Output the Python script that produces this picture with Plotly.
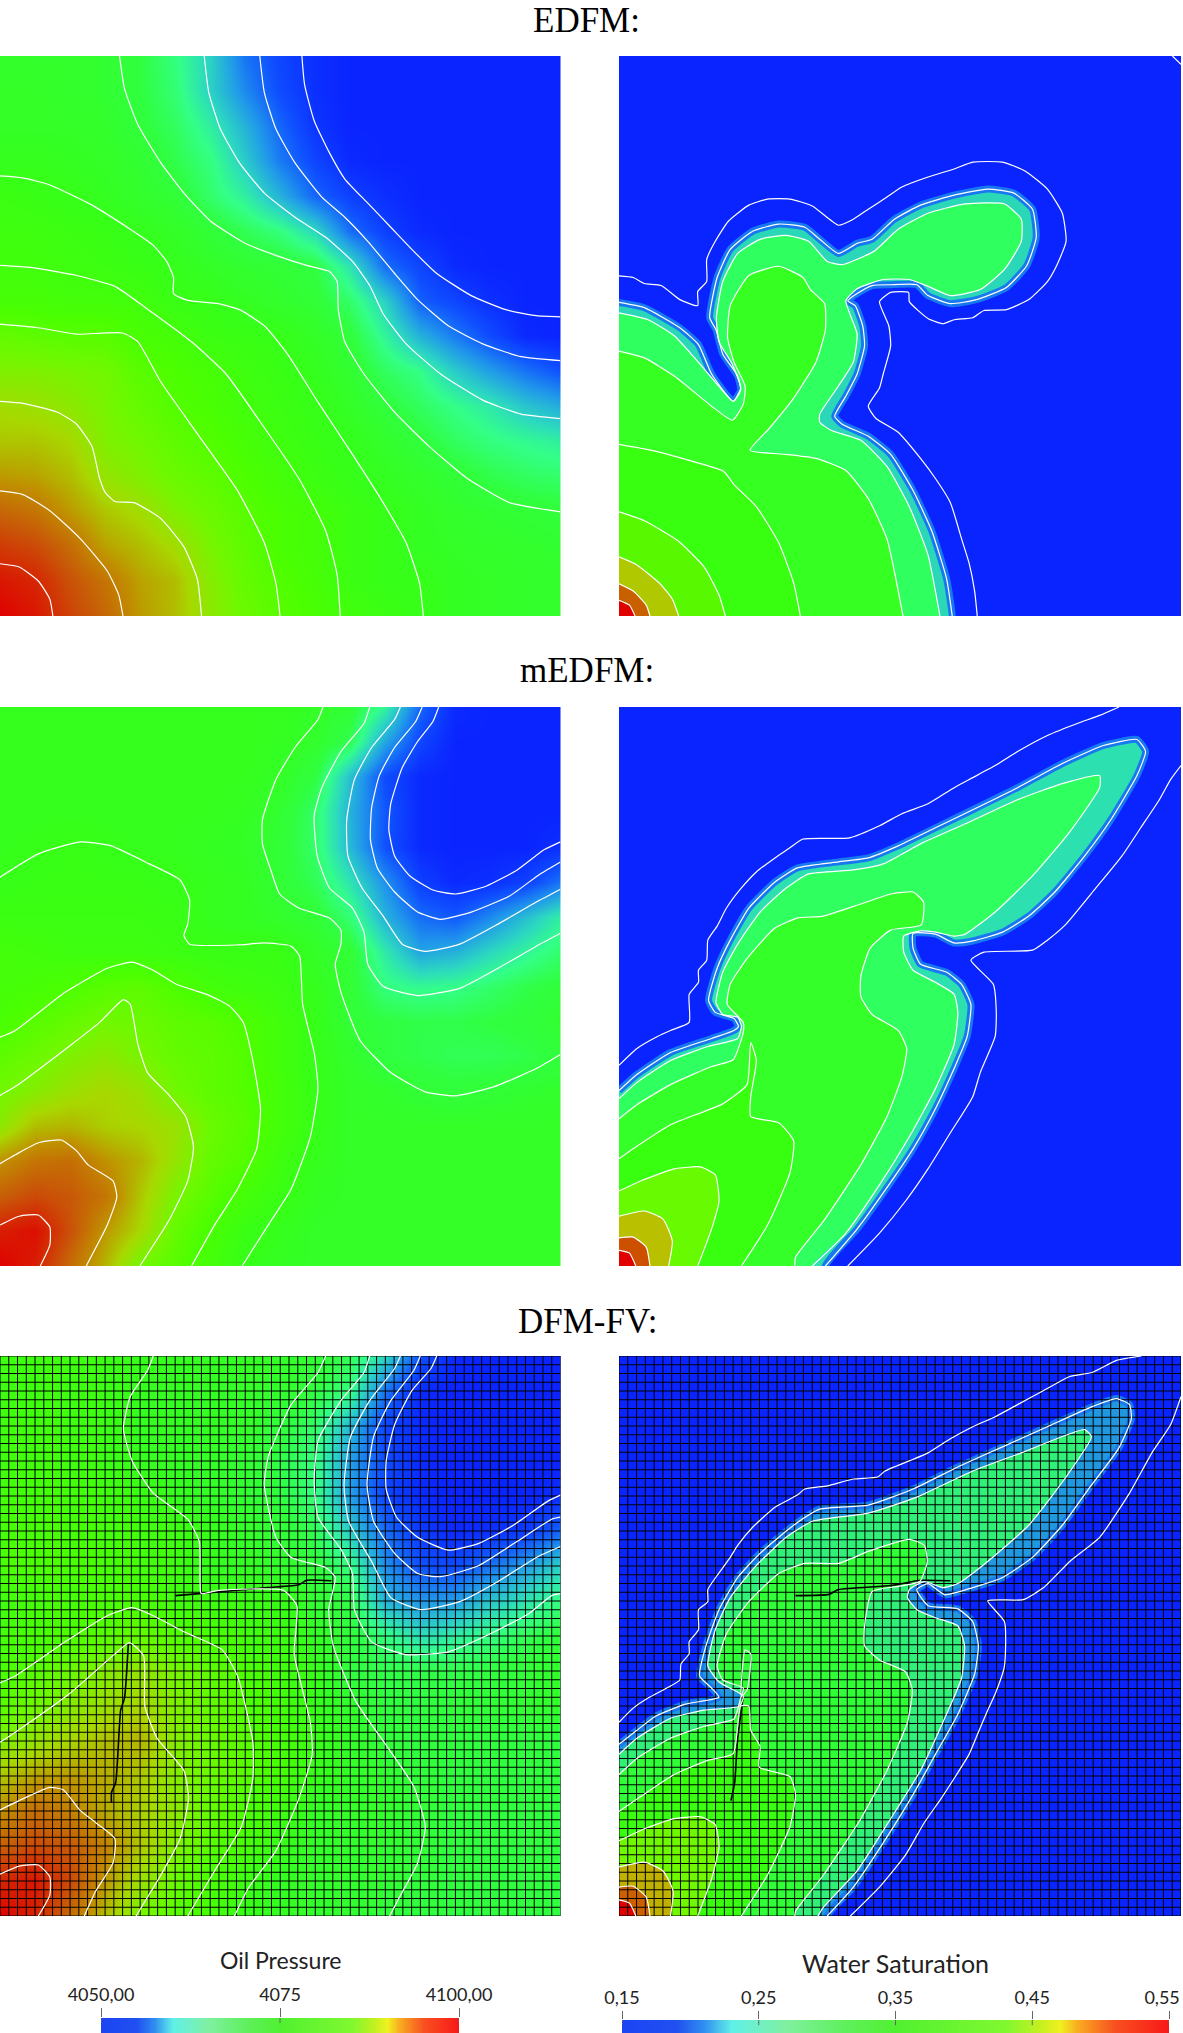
import numpy as np
import plotly.graph_objects as go

W, H = 1183, 2033

# panel colour table (level 0-100)
LEVELS = [0, 8, 18, 28, 35, 42, 50, 58, 64, 72, 80, 88, 100]
LEVEL_COLORS = ['#0a24ff', '#0f50ff', '#2098ea', '#2cd8c0', '#33ff88', '#30ff40', '#36ff18',
                '#4cff00', '#70f800', '#a8d800', '#c09000', '#c85808', '#e00000']

# colour bars at the bottom
BAR_POS = [0, 0.1, 0.15, 0.2, 0.3, 0.4, 0.5, 0.7, 0.76, 0.8, 0.83, 0.9, 1]
BAR_COLORS = ['#1c44f4', '#2050f0', '#3090f0', '#60f0e8', '#80f0a0', '#60f060', '#50f030',
              '#80f830', '#c0f020', '#f0f020', '#f8b020', '#f85020', '#f81818']
PRESSURE_TICKS = [4050, 4075, 4100]
PRESSURE_LABELS = ['4050,00', '4075', '4100,00']
SAT_TICKS = [0.15, 0.25, 0.35, 0.45, 0.55]
# trailing spaces pull the last label back inside the page, as in the original
SAT_LABELS = ['0,15', '0,25', '0,35', '0,45', '0,55\u00a0\u00a0\u00a0']

# oil pressure level on a 17x17 lattice, rows top to bottom
EDFM_P = [
    [46, 46, 46, 45, 42, 36, 27, 13, 6, 2, 0, 0, 0, 0, 0, 0, 0],
    [47, 47, 46, 45, 42, 37, 27, 16, 7, 2, 0, 0, 0, 0, 0, 0, 0],
    [47, 47, 47, 46, 43, 39, 32, 22, 11, 3, 0, 0, 0, 0, 0, 0, 0],
    [49, 49, 48, 47, 45, 41, 36, 26, 14, 6, 1, 0, 0, 0, 0, 0, 0],
    [52, 51, 50, 48, 46, 44, 38, 32, 22, 11, 5, 2, 0, 0, 0, 0, 0],
    [53, 53, 52, 51, 49, 47, 44, 40, 36, 28, 12, 5, 1, 0, 0, 0, 0],
    [54, 54, 53, 52, 51, 49, 47, 45, 44, 42, 30, 12, 6, 1, 0, 0, 0],
    [56, 56, 55, 55, 54, 51, 50, 48, 46, 44, 38, 27, 10, 6, 2, 0, 0],
    [62, 61, 60, 60, 57, 55, 52, 51, 50, 47, 43, 33, 22, 14, 7, 1, 0],
    [66, 66, 65, 64, 60, 58, 56, 53, 51, 49, 45, 39, 35, 26, 19, 13, 8],
    [71, 70, 68, 65, 62, 59, 57, 54, 52, 50, 47, 43, 39, 35, 31, 25, 21],
    [74, 74, 72, 66, 64, 61, 59, 56, 53, 51, 49, 46, 43, 39, 36, 34, 32],
    [79, 78, 75, 69, 66, 63, 61, 58, 55, 52, 50, 48, 46, 44, 41, 39, 38],
    [86, 84, 79, 74, 71, 66, 63, 60, 57, 55, 52, 50, 48, 46, 45, 44, 43],
    [92, 90, 85, 78, 75, 71, 65, 61, 57, 55, 52, 50, 48, 47, 46, 46, 45],
    [97, 95, 89, 84, 78, 75, 67, 62, 59, 56, 52, 50, 50, 48, 47, 46, 46],
    [100, 97, 91, 86, 79, 75, 68, 63, 60, 57, 54, 52, 50, 48, 47, 46, 46],
]
MEDFM_P = [
    [49, 49, 49, 49, 49, 49, 49, 49, 49, 47, 44, 33, 11, 1, 0, 0, 0],
    [49, 49, 49, 49, 49, 49, 49, 49, 48, 46, 40, 20, 6, 0, 0, 0, 0],
    [49, 49, 49, 49, 49, 49, 49, 49, 47, 42, 24, 7, 1, 0, 0, 0, 0],
    [49, 49, 49, 49, 49, 49, 49, 48, 45, 38, 22, 9, 1, 0, 0, 0, 0],
    [49, 50, 51, 50, 49, 49, 48, 47, 44, 38, 23, 8, 1, 0, 0, 0, 2],
    [50, 51, 51, 51, 51, 50, 49, 48, 44, 40, 30, 17, 5, 1, 2, 5, 13],
    [52, 52, 52, 52, 52, 51, 49, 48, 46, 44, 37, 22, 12, 9, 16, 24, 32],
    [55, 54, 53, 53, 53, 52, 51, 51, 51, 47, 44, 31, 20, 22, 28, 33, 38],
    [55, 56, 58, 60, 61, 58, 55, 53, 52, 49, 44, 36, 34, 35, 38, 41, 43],
    [57, 60, 62, 64, 63, 61, 60, 58, 54, 50, 44, 42, 41, 41, 42, 43, 45],
    [61, 63, 66, 68, 65, 62, 61, 59, 54, 50, 46, 42, 41, 40, 40, 41, 43],
    [64, 67, 70, 72, 70, 64, 61, 59, 55, 50, 47, 46, 44, 43, 44, 45, 46],
    [68, 75, 76, 73, 72, 70, 63, 60, 55, 50, 47, 47, 47, 47, 47, 47, 47],
    [80, 84, 85, 80, 76, 69, 62, 59, 53, 49, 47, 47, 47, 47, 47, 47, 47],
    [87, 90, 88, 84, 74, 65, 60, 55, 51, 48, 47, 47, 47, 47, 47, 47, 47],
    [96, 98, 89, 79, 72, 62, 57, 51, 49, 47, 47, 47, 47, 47, 47, 47, 47],
    [100, 96, 85, 76, 64, 60, 55, 50, 48, 47, 47, 47, 47, 47, 47, 47, 47],
]
DFM_P = [
    [53, 53, 53, 52, 50, 49, 48, 48, 47, 45, 40, 28, 8, 1, 0, 0, 0],
    [53, 53, 53, 52, 49, 48, 48, 47, 46, 42, 36, 13, 1, 0, 0, 0, 0],
    [54, 54, 53, 52, 49, 48, 48, 47, 43, 38, 23, 6, 1, 0, 0, 0, 0],
    [54, 54, 54, 52, 49, 48, 47, 45, 41, 36, 19, 7, 1, 0, 0, 0, 0],
    [55, 55, 55, 54, 52, 49, 47, 45, 42, 36, 19, 6, 1, 0, 0, 0, 2],
    [56, 56, 56, 55, 54, 53, 50, 47, 44, 40, 26, 12, 4, 1, 2, 4, 11],
    [57, 57, 57, 56, 55, 53, 49, 48, 46, 43, 36, 17, 8, 7, 13, 19, 27],
    [54, 55, 56, 57, 57, 54, 53, 52, 51, 45, 41, 22, 18, 19, 25, 30, 36],
    [55, 56, 58, 60, 62, 59, 57, 54, 52, 48, 43, 36, 29, 32, 36, 40, 43],
    [57, 60, 63, 67, 69, 65, 61, 58, 54, 50, 42, 41, 41, 41, 42, 44, 46],
    [60, 64, 67, 70, 72, 66, 62, 59, 55, 50, 46, 42, 42, 43, 44, 45, 46],
    [66, 69, 72, 75, 76, 67, 63, 60, 56, 51, 47, 43, 42, 42, 42, 42, 42],
    [74, 78, 79, 77, 74, 67, 63, 60, 56, 50, 47, 45, 43, 42, 42, 42, 42],
    [80, 85, 82, 77, 73, 68, 62, 58, 53, 48, 47, 46, 44, 42, 42, 42, 42],
    [87, 90, 88, 82, 74, 66, 60, 56, 50, 47, 46, 45, 44, 42, 42, 42, 42],
    [95, 97, 90, 79, 70, 63, 57, 52, 48, 47, 46, 45, 43, 42, 42, 42, 42],
    [100, 95, 85, 75, 65, 60, 56, 50, 48, 46, 45, 43, 42, 42, 42, 42, 42],
]

# isolines, panel units, y going down
EDFM_P_LINES = [
    [(788,139),(795,210),(820,300),(860,380),(900,445),(960,505),(1020,565),(1080,625),(1140,680),(1230,735),(1320,770),(1400,785),(1463,788)],
    [(678,139),(690,230),(720,320),(770,405),(840,490),(900,540),(960,600),(1030,680),(1090,745),(1170,810),(1260,855),(1360,887),(1463,897)],
    [(533,139),(545,230),(575,320),(625,405),(690,480),(770,540),(850,590),(920,650),(965,710),(1000,780),(1060,855),(1150,930),(1260,995),(1360,1030),(1463,1041)],
    [(312,139),(325,220),(360,310),(420,405),(480,480),(550,550),(640,605),(720,635),(800,660),(860,675),(880,700),(883,770),(900,850),(950,930),(1030,1025),(1120,1110),(1220,1190),(1330,1250),(1463,1273)],
    [(0,437),(60,442),(130,460),(240,510),(340,570),(400,610),(435,650),(453,690),(453,730),(490,747),(570,755),(625,770),(690,810),(750,880),(830,1000),(920,1130),(1000,1250),(1060,1350),(1095,1450),(1105,1532)],
    [(0,660),(80,665),(200,685),(300,712),(380,765),(500,850),(590,930),(680,1050),(780,1190),(850,1320),(880,1430),(888,1532)],
    [(0,806),(100,815),(200,831),(320,828),(360,850),(420,950),(520,1085),(620,1220),(690,1350),(720,1450),(731,1532)],
    [(0,998),(60,1003),(150,1025),(200,1055),(240,1110),(260,1190),(275,1225),(300,1247),(350,1250),(420,1290),(480,1360),(515,1440),(526,1532)],
    [(0,1221),(60,1230),(130,1270),(210,1340),(280,1420),(310,1480),(321,1532)],
    [(0,1402),(50,1410),(100,1445),(130,1490),(138,1532)],
]
MEDFM_P_LINES = [
    [(1145,139),(1130,175),(1090,225),(1050,290),(1020,380),(1015,445),(1030,510),(1070,560),(1130,595),(1190,605),(1270,585),(1350,545),(1420,495),(1463,475)],
    [(1102,139),(1085,175),(1030,240),(990,310),(970,390),(967,470),(985,540),(1030,600),(1090,650),(1150,668),(1230,650),(1330,610),(1410,555),(1463,525)],
    [(1045,139),(1030,170),(970,240),(925,320),(905,420),(908,510),(945,590),(1000,660),(1050,730),(1110,748),(1200,730),(1300,680),(1400,625),(1463,593)],
    [(965,139),(950,180),(890,250),(840,340),(820,410),(828,510),(860,590),(920,640),(950,700),(960,780),(1000,835),(1090,858),(1200,840),(1300,790),(1400,735),(1463,703)],
    [(843,139),(830,170),(770,240),(720,320),(685,420),(685,480),(705,540),(730,605),(780,640),(860,665),(890,695),(890,730),(875,780),(890,850),(940,970),(1020,1050),(1110,1098),(1190,1108),(1290,1085),(1400,1040),(1463,1005)],
    [(0,563),(100,505),(210,475),(290,485),(390,530),(470,570),(495,620),(490,680),(480,708),(495,730),(620,732),(690,727),(760,735),(782,760),(790,880),(820,1000),(830,1090),(810,1210),(760,1340),(700,1430),(632,1532)],
    [(0,962),(40,945),(170,850),(280,790),(345,775),(400,795),(460,830),(540,855),(600,885),(635,925),(660,1020),(680,1140),(670,1240),(620,1340),(560,1430),(500,1532)],
    [(0,1107),(40,1085),(180,985),(260,925),(322,868),(340,880),(360,980),(385,1050),(440,1105),(485,1160),(505,1235),(490,1320),(440,1420),(365,1532)],
    [(0,1277),(40,1255),(100,1225),(160,1218),(200,1245),(230,1280),(295,1320),(305,1360),(280,1430),(225,1532)],
    [(0,1430),(50,1408),(100,1405),(130,1435),(130,1480),(105,1532)],
]
DFM_P_LINES = [
    [(1140,139),(1125,170),(1075,225),(1030,310),(1008,400),(1008,470),(1035,540),(1090,590),(1170,622),(1250,605),(1340,560),(1430,500),(1463,485)],
    [(1097,139),(1080,175),(1020,250),(975,340),(958,460),(975,550),(1030,630),(1090,680),(1150,688),(1250,660),(1350,600),(1440,545),(1463,540)],
    [(1045,139),(1030,170),(965,250),(915,340),(898,460),(910,550),(970,650),(1020,740),(1100,770),(1200,750),(1300,700),(1400,640),(1463,613)],
    [(965,139),(950,180),(890,250),(830,350),(820,450),(830,540),(890,620),(920,680),(925,770),(970,850),(1060,882),(1170,875),(1280,830),(1380,780),(1440,735),(1463,730)],
    [(850,139),(830,180),(760,260),(700,390),(690,460),(720,590),(760,640),(850,665),(875,690),(858,770),(870,860),(930,1000),(1010,1110),(1080,1210),(1110,1310),(1090,1400),(1040,1490),(1017,1532)],
    [(400,139),(385,175),(340,240),(322,320),(345,400),(400,480),(490,545),(520,600),(522,700),(525,730),(570,722),(740,722),(775,760),(768,880),(810,1050),(815,1130),(780,1240),(720,1370),(650,1460),(612,1532)],
    [(0,952),(40,935),(170,850),(280,785),(345,765),(400,785),(480,825),(580,870),(620,935),(660,1100),(660,1190),(630,1310),(560,1420),(490,1532)],
    [(0,1100),(40,1075),(180,980),(300,880),(338,852),(375,885),(378,1010),(410,1090),(480,1170),(492,1240),(470,1340),(420,1430),(355,1532)],
    [(0,1268),(50,1245),(130,1212),(165,1218),(210,1270),(250,1300),(300,1340),(295,1400),(250,1470),(220,1532)],
    [(0,1428),(50,1408),(100,1405),(130,1435),(130,1480),(100,1532)],
]
DFM_P_CRACKS = [
    [(458,735),(520,730),(700,715),(780,708),(800,697),(865,698)],
    [(335,855),(325,990),(315,1020),(302,1200),(291,1225),(291,1250)],
]

# water saturation: each closed isoline is filled with the colour next to it
EDFM_S_LINES = [
    [(52,752),(120,765),(215,815),(265,857),(300,930),(358,998),(378,970),(370,935),(330,880),(312,820),(295,790),(315,690),(350,620),(410,575),(480,557),(550,565),(590,595),(640,630),(690,605),(730,595),(790,545),(860,510),(950,485),(1040,470),(1110,480),(1160,520),(1170,590),(1145,660),(1090,715),(1010,745),(940,755),(880,735),(850,708),(780,708),(730,710),(690,730),(665,748),(685,760),(705,810),(710,860),(690,930),(660,985),(630,1035),(650,1055),(720,1085),(780,1130),(840,1220),(890,1320),(930,1440),(945,1532)],
    [(52,778),(130,795),(200,835),(250,885),(310,950),(358,998),(378,965),(355,905),(320,850),(313,790),(330,700),(370,630),(430,595),(500,585),(560,600),(610,650),(650,658),(735,625),(800,570),(880,530),(980,507),(1085,507),(1130,545),(1130,600),(1085,670),(1020,720),(940,735),(880,712),(830,695),(760,695),(690,718),(660,748),(690,830),(680,900),(640,960),(590,1030),(590,1050),(620,1070),(700,1095),(770,1160),(830,1260),(880,1380),(912,1532)],
    [(52,873),(120,890),(200,935),(300,1010),(356,1045),(385,1005),(390,960),(360,900),(343,840),(350,760),(400,685),(480,662),(545,690),(565,720),(603,755),(605,820),(580,900),(520,990),(455,1065),(403,1120),(500,1130),(580,1140),(660,1170),(720,1240),(770,1340),(813,1532)],
    [(52,1105),(140,1120),(240,1145),(332,1172),(360,1205),(420,1260),(480,1350),(520,1450),(538,1532)],
    [(52,1273),(120,1295),(210,1345),(280,1410),(320,1480),(337,1532)],
    [(52,1385),(100,1405),(160,1450),(195,1490),(212,1532)],
    [(52,1452),(90,1470),(125,1505),(135,1532)],
    [(52,1493),(80,1505),(95,1532)],
]
EDFM_S_COLORS = ['#2ad8b8', '#30ff60', '#36ff22', '#38ff10', '#58f800', '#b0c800', '#c86000', '#e00000']
EDFM_S_OUTER = [
    [(52,686),(90,690),(120,705),(165,710),(215,745),(263,760),(263,725),(287,700),(287,645),(310,600),(345,550),(400,510),(450,495),(510,495),(570,512),(640,560),(680,545),(720,520),(770,490),(810,465),(880,440),(950,420),(1000,403),(1080,403),(1140,425),(1200,470),(1240,530),(1250,600),(1225,660),(1200,700),(1150,745),(1090,770),(1030,772),(1000,790),(950,795),(920,805),(880,792),(830,750),(828,727),(780,727),(750,750),(775,810),(780,860),(760,930),(750,965),(720,1010),(740,1040),(800,1075),(860,1140),(900,1190),(940,1250),(970,1340),(990,1400),(1005,1470),(1012,1532)],
    [(1535,139),(1558,160)],
]
MEDFM_S_LINES = [
    [(52,1095),(100,1055),(190,1000),(300,965),(360,945),(372,935),(360,915),(310,900),(292,870),(315,790),(350,720),(400,640),(470,575),(530,540),(640,525),(720,515),(800,485),(900,440),(1000,395),(1120,340),(1240,280),(1350,235),(1440,220),(1463,250),(1440,310),(1370,420),(1300,510),(1220,600),(1150,660),(1080,700),(1000,722),(950,727),(900,705),(840,703),(840,740),(860,780),(930,800),(970,830),(995,880),(985,960),(950,1040),(900,1140),(840,1240),(760,1350),(690,1440),(605,1532)],
    [(52,1115),(100,1075),(190,1020),(290,985),(370,965),(380,935),(370,912),(330,905),(312,875),(330,800),(370,730),(430,650),(500,590),(560,555),(680,545),(760,530),(860,480),(980,430),(1120,370),(1240,330),(1340,310),(1340,340),(1260,450),(1160,560),(1060,650),(980,705),(950,710),(900,700),(860,697),(815,710),(815,750),(840,795),(900,825),(950,855),(960,900),(950,980),(900,1090),(830,1210),(750,1330),(660,1450),(570,1532)],
    [(52,1165),(100,1130),(190,1080),(300,1035),(358,1018),(385,950),(385,925),(342,880),(350,830),(400,760),(470,690),(530,665),(600,660),(700,630),(780,605),(840,600),(868,625),(862,682),(780,695),(725,740),(700,810),(700,860),(730,905),(800,945),(823,990),(810,1060),(770,1160),(700,1280),(600,1420),(525,1510),(523,1532)],
    [(52,1265),(90,1240),(190,1180),(330,1128),(395,1080),(405,975),(420,1020),(405,1110),(405,1160),(480,1175),(520,1220),(510,1300),(450,1430),(380,1532)],
    [(52,1345),(110,1320),(200,1290),(270,1285),(310,1305),(320,1370),(300,1440),(263,1532)],
    [(52,1408),(120,1395),(170,1415),(195,1470),(185,1532)],
    [(52,1462),(90,1460),(125,1485),(135,1532)],
    [(52,1493),(80,1500),(97,1532)],
]
MEDFM_S_COLORS = ['#2ce0b0', '#30ff60', '#34ff28', '#38ff10', '#68fa00', '#b8c000', '#cc5000', '#e00000']
MEDFM_S_OUTER = [
    [(52,1032),(100,990),(155,960),(190,945),(240,925),(240,855),(265,825),(265,795),(287,770),(290,720),(315,685),(340,640),(380,590),(420,550),(470,515),(510,490),(545,468),(670,465),(750,435),(810,405),(880,380),(950,340),(1000,315),(1060,285),(1120,250),(1200,210),(1280,180),(1340,160),(1392,139)],
    [(1558,285),(1530,320),(1500,370),(1450,440),(1400,510),(1330,590),(1250,680),(1200,720),(1160,745),(1030,750),(995,770),(1055,830),(1063,900),(1060,960),(1020,1050),(1000,1110),(940,1200),(880,1290),(820,1370),(750,1450),(665,1532)],
]
DFM_S_LINES = [
    [(52,1105),(100,1070),(150,1035),(230,1005),(320,988),(300,965),(268,935),(285,860),(320,770),(370,690),(430,630),(520,560),(590,520),(720,510),(840,470),(960,415),(1080,365),(1200,315),(1320,265),(1385,245),(1420,260),(1425,295),(1390,370),(1310,470),(1240,560),(1160,640),(1080,690),(1000,715),(925,733),(880,705),(850,720),(880,760),(960,768),(1000,800),(1015,860),(1005,930),(960,1030),(900,1130),(840,1230),(760,1350),(680,1460),(610,1532)],
    [(52,1130),(100,1090),(190,1040),(280,1020),(375,1010),(385,985),(320,950),(290,910),(310,820),(350,740),(420,660),(500,590),(570,550),(720,530),(850,490),(1000,425),(1130,380),(1300,322),(1318,340),(1250,440),(1150,560),(1040,650),(960,705),(920,715),(870,700),(830,720),(825,740),(850,770),(900,790),(960,810),(978,860),(970,940),(920,1050),(860,1170),(780,1290),(690,1420),(600,1510),(585,1532)],
    [(52,1180),(100,1140),(190,1090),(280,1060),(360,1042),(378,990),(385,965),(330,945),(315,910),(340,830),(400,750),(480,680),(550,655),(640,655),(720,625),(830,595),(870,610),(878,650),(858,700),(800,712),(730,725),(710,810),(710,860),(750,895),(820,925),(838,970),(825,1050),(770,1170),(700,1290),(600,1430),(525,1520),(523,1532)],
    [(52,1272),(110,1235),(200,1180),(290,1145),(358,1128),(378,1010),(400,1010),(405,1070),(430,1110),(428,1162),(510,1185),(525,1230),(510,1310),(450,1430),(380,1532)],
    [(52,1345),(120,1315),(200,1290),(270,1285),(310,1305),(320,1360),(300,1440),(263,1532)],
    [(52,1410),(120,1398),(170,1420),(197,1470),(190,1532)],
    [(52,1460),(90,1458),(125,1485),(135,1532)],
    [(52,1492),(80,1500),(97,1532)],
]
DFM_S_COLORS = ['#2098e0', '#30f078', '#30ff38', '#38ff10', '#70f800', '#c0b000', '#cc6000', '#e00000']
DFM_S_OUTER = [
    [(52,1050),(90,1015),(130,990),(180,965),(215,945),(218,905),(240,880),(240,850),(265,820),(265,770),(290,750),(290,720),(315,685),(350,640),(370,610),(410,565),(470,515),(530,485),(550,470),(610,462),(680,445),(745,440),(765,425),(830,400),(880,380),(940,345),(1000,315),(1060,290),(1120,260),(1190,225),(1260,190),(1320,180),(1385,150),(1452,139)],
    [(1558,240),(1530,310),(1480,380),(1420,480),(1340,590),(1260,650),(1190,715),(1135,745),(1040,748),(1085,800),(1085,910),(1060,980),(1040,1020),(1015,1075),(990,1130),(950,1190),(915,1240),(870,1300),(820,1380),(750,1460),(672,1532)],
    [(390,870),(405,880),(395,970),(380,985),(390,870)],
]
DFM_S_CRACKS = [
    [(525,735),(615,732),(640,720),(780,710),(860,697),(940,698)],
    [(385,985),(370,1090),(362,1200),(352,1245)],
]

PANEL_LEFT = (0, 1463)
PANEL_RIGHT = (52, 1558)
PANEL_Y = (139, 1532)
GRID_CELLS = 64

colorscale = [[v / 100, c] for v, c in zip(LEVELS, LEVEL_COLORS)]
bar_scale = [[p, c] for p, c in zip(BAR_POS, BAR_COLORS)]

fig = go.Figure()
layout = {}
n_axes = 0


def new_axes(px_x, px_y, xr, yr, **xopts):
    # one pair of axes placed by pixels of the page
    global n_axes
    n_axes += 1
    sx = '' if n_axes == 1 else str(n_axes)
    layout['xaxis' + sx] = dict(domain=[px_x[0] / W, px_x[1] / W], range=list(xr), anchor='y' + sx, automargin=False,
                                showgrid=False, zeroline=False, showline=False, **xopts)
    layout['yaxis' + sx] = dict(domain=[1 - px_y[1] / H, 1 - px_y[0] / H], range=list(yr), anchor='x' + sx,
                                automargin=False, showgrid=False, zeroline=False, showline=False,
                                showticklabels=False, ticks='')
    return 'x' + sx, 'y' + sx


def draw_line(pts, ax, color='white', width=1.2):
    xs, ys = zip(*pts)
    fig.add_trace(go.Scatter(x=xs, y=ys, mode='lines', xaxis=ax[0], yaxis=ax[1], hoverinfo='skip',
                             line=dict(color=color, width=width, shape='spline', smoothing=0.5)))


def draw_fill(pts, color, ax, xr, edge=None):
    # close the isoline round the lower left corner, outside the clipped area
    xs, ys = zip(*pts)
    xs = list(xs) + [xs[-1], xr[0] - 200, xr[0] - 200]
    ys = list(ys) + [PANEL_Y[1] + 200, PANEL_Y[1] + 200, ys[0]]
    fig.add_trace(go.Scatter(x=xs, y=ys, mode='lines', fill='toself', fillcolor=color, xaxis=ax[0], yaxis=ax[1],
                             hoverinfo='skip',
                             line=dict(color=edge or color, width=7 if edge else 0, shape='spline', smoothing=0.5)))


def draw_mesh(ax, xr):
    gx, gy = [], []
    for v in np.linspace(xr[0], xr[1], GRID_CELLS + 1):
        gx += [v, v, None]
        gy += [PANEL_Y[0], PANEL_Y[1], None]
    for v in np.linspace(PANEL_Y[0], PANEL_Y[1], GRID_CELLS + 1):
        gx += [xr[0], xr[1], None]
        gy += [v, v, None]
    fig.add_trace(go.Scatter(x=gx, y=gy, mode='lines', xaxis=ax[0], yaxis=ax[1], hoverinfo='skip',
                             line=dict(color='black', width=1)))


def pressure_panel(px_y, grid, lines, cracks=None):
    ax = new_axes((0, 560.5), px_y, PANEL_LEFT, PANEL_Y[::-1], showticklabels=False, ticks='')
    fig.add_trace(go.Heatmap(z=grid, x=np.linspace(*PANEL_LEFT, 17), y=np.linspace(*PANEL_Y, 17),
                             colorscale=colorscale, zmin=0, zmax=100, zsmooth='best', showscale=False,
                             hoverinfo='skip', xaxis=ax[0], yaxis=ax[1]))
    if cracks:
        draw_mesh(ax, PANEL_LEFT)
        for c in cracks:
            draw_line(c, ax, 'black', 1.6)
    for ln in lines:
        draw_line(ln, ax)


def saturation_panel(px_y, lines, colors, outer, cracks=None):
    ax = new_axes((619, 1181), px_y, PANEL_RIGHT, PANEL_Y[::-1], showticklabels=False, ticks='')
    # blue background as a flat map
    fig.add_trace(go.Heatmap(z=[[0, 0], [0, 0]], x=list(PANEL_RIGHT), y=list(PANEL_Y), colorscale=colorscale,
                             zmin=0, zmax=100, showscale=False, hoverinfo='skip', xaxis=ax[0], yaxis=ax[1]))
    for i, (ln, col) in enumerate(zip(lines, colors)):
        draw_fill(ln, col, ax, PANEL_RIGHT, edge='#1878f0' if i == 0 else None)
    if cracks:
        draw_mesh(ax, PANEL_RIGHT)
        for c in cracks:
            draw_line(c, ax, 'black', 1.6)
    for ln in outer + lines:
        draw_line(ln, ax)


def color_bar(px_x, px_y, lo, hi, ticks, labels, ticklen, inner):
    ax = new_axes(px_x, px_y, (lo, hi), (0, 1), side='top', tickmode='array', tickvals=ticks, ticktext=labels,
                  ticks='outside', ticklen=ticklen, tickwidth=1, tickcolor='#666666', ticklabeloverflow='allow',
                  tickfont=dict(family='Lato', size=18, color='#222222'))
    fig.add_trace(go.Heatmap(z=[np.linspace(lo, hi, 101)], x=np.linspace(lo, hi, 101), y=[0.5], colorscale=bar_scale,
                             zmin=lo, zmax=hi, zsmooth='best', showscale=False, hoverinfo='skip',
                             xaxis=ax[0], yaxis=ax[1]))
    for t in ticks:
        draw_line([(t, 1), (t, inner)], ax, '#666666', 1)


pressure_panel((56, 616), EDFM_P, EDFM_P_LINES)
saturation_panel((56, 616), EDFM_S_LINES, EDFM_S_COLORS, EDFM_S_OUTER)
pressure_panel((707, 1266), MEDFM_P, MEDFM_P_LINES)
saturation_panel((707, 1266), MEDFM_S_LINES, MEDFM_S_COLORS, MEDFM_S_OUTER)
pressure_panel((1356, 1916), DFM_P, DFM_P_LINES, DFM_P_CRACKS)
saturation_panel((1356, 1916), DFM_S_LINES, DFM_S_COLORS, DFM_S_OUTER, DFM_S_CRACKS)

color_bar((101, 459), (2018, 2033), 4050, 4100, PRESSURE_TICKS, PRESSURE_LABELS, 9, 0.67)
color_bar((622, 1169), (2020, 2033), 0.15, 0.55, SAT_TICKS, SAT_LABELS, 8, 0.6)


def page_text(text, px, py, family, size, color='black'):
    return dict(text=text, x=px / W, y=1 - py / H, xref='paper', yref='paper', xanchor='center', yanchor='middle',
                showarrow=False, font=dict(family=family, size=size, color=color))


serif = 'Liberation Serif'
layout['annotations'] = [
    page_text('EDFM:', 586, 21, serif, 35),
    page_text('mEDFM:', 587, 671, serif, 35),
    page_text('DFM-FV:', 587, 1321, serif, 35),
    page_text('Oil Pressure', 280, 1960, 'Lato', 23, '#222222'),
    page_text('Water Saturation', 895, 1963, 'Lato', 25, '#222222'),
]

fig.update_layout(width=W, height=H, margin=dict(l=0, r=0, t=0, b=0, autoexpand=False), paper_bgcolor='white',
                  plot_bgcolor='white', showlegend=False, **layout)

fig.write_html("out.html", config={'displayModeBar': False},
               post_script="document.body.style.margin='0';")
